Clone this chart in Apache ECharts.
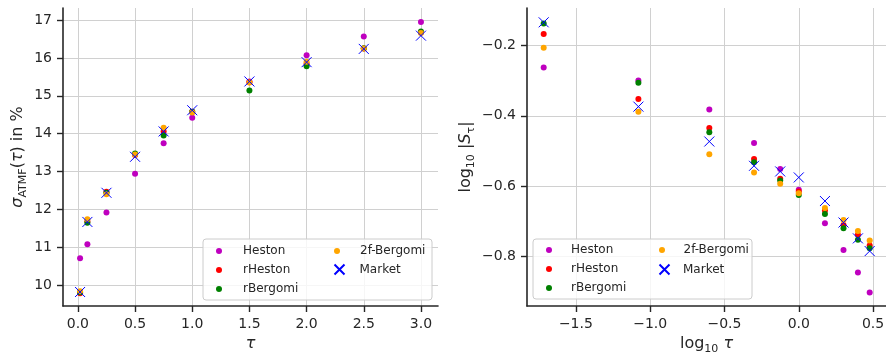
<!DOCTYPE html>
<html><head><meta charset="utf-8">
<script src="https://cdn.jsdelivr.net/npm/echarts@6/dist/echarts.min.js"></script>
<style>html,body{margin:0;padding:0;background:#fff}#c{width:886px;height:355px}</style>
</head><body><div id="c"></div>
<script>
// maturities
const tau = [0.0192, 0.0833, 0.25, 0.5, 0.75, 1.0, 1.5, 2.0, 2.5, 3.0];
// ATMF implied vol (%) - left panel
const atmHeston    = [10.71, 11.08, 11.92, 12.94, 13.75, 14.42, 15.38, 16.07, 16.57, 16.95];
const atmRHeston   = [9.79, 11.68, 12.47, 13.44, 14.06, 14.58, 15.36, 15.85, 16.25, 16.67];
const atmRBergomi  = [9.81, 11.65, 12.44, 13.48, 13.95, 14.58, 15.14, 15.78, 16.26, 16.70];
const atm2fBergomi = [9.84, 11.74, 12.40, 13.45, 14.16, 14.56, 15.35, 15.90, 16.25, 16.66];
const atmMarket    = [9.82, 11.67, 12.44, 13.39, 14.06, 14.62, 15.38, 15.89, 16.24, 16.59];
// log10 |skew| - right panel
const skewHeston    = [-0.2626, -0.2995, -0.382, -0.4775, -0.551, -0.610, -0.705, -0.781, -0.845, -0.902];
const skewRHeston   = [-0.168, -0.3525, -0.435, -0.523, -0.579, -0.615, -0.669, -0.710, -0.738, -0.768];
const skewRBergomi  = [-0.138, -0.306, -0.447, -0.532, -0.584, -0.625, -0.679, -0.719, -0.752, -0.776];
const skew2fBergomi = [-0.2066, -0.3885, -0.509, -0.561, -0.593, -0.620, -0.662, -0.6956, -0.727, -0.754];
const skewMarket    = [-0.1346, -0.374, -0.473, -0.542, -0.558, -0.575, -0.642, -0.703, -0.748, -0.784];
// tick labels
const leftXTicks  = [0, 0.5, 1, 1.5, 2, 2.5, 3];
const leftYTicks  = [10, 11, 12, 13, 14, 15, 16, 17];
const rightXTicks = [-1.5, -1, -0.5, 0, 0.5];
const rightYTicks = [-0.8, -0.6, -0.4, -0.2];

const names = ['Heston', 'rHeston', 'rBergomi', '2f-Bergomi', 'Market'];
const colors = ['#bf00bf', '#ff0000', '#008000', '#ffa500', '#0000ff'];
const leftSets = [atmHeston, atmRHeston, atmRBergomi, atm2fBergomi, atmMarket];
const rightSets = [skewHeston, skewRHeston, skewRBergomi, skew2fBergomi, skewMarket];
const logTau = tau.map(t => Math.log10(t));

const FONT = 'DejaVu Sans';
const DARK = '#262626';
const fmt1 = v => v.toFixed(1).replace('-', '\u2212');
const XPATH = 'path://M0,0L10,10M10,0L0,10';

function axisBase(ticks, formatter, min, max) {
  return {
    type: 'value', min: min, max: max,
    axisLine: { show: true, onZero: false, lineStyle: { color: DARK, width: 1.6 } },
    axisTick: { show: true, length: 6, customValues: ticks, lineStyle: { color: DARK, width: 1.4 } },
    axisLabel: { customValues: ticks, formatter: formatter, color: DARK, fontSize: 14, fontFamily: FONT, margin: 11 },
    splitLine: { show: true, lineStyle: { color: '#d0d0d0', width: 1 } },
    nameTextStyle: { color: DARK, fontFamily: FONT, fontSize: 16 }
  };
}

const rich = {
  n: { fontFamily: FONT, fontSize: 16, color: DARK, lineHeight: 22 },
  m: { fontFamily: FONT, fontSize: 16, fontStyle: 'italic', color: DARK, lineHeight: 22 },
  s: { fontFamily: FONT, fontSize: 11, color: DARK, verticalAlign: 'bottom', lineHeight: 14 }
};

const series = [];
names.forEach((nm, k) => {
  const isX = nm === 'Market';
  const st = isX ? { color: 'none', borderColor: colors[k], borderWidth: 1, opacity: 1 } : { color: colors[k], opacity: 1 };
  series.push({
    name: nm, type: 'scatter', xAxisIndex: 0, yAxisIndex: 0,
    symbol: isX ? XPATH : 'circle', symbolSize: isX ? 10 : 6,
    itemStyle: st, emphasis: { disabled: true },
    data: tau.map((t, i) => [t, leftSets[k][i]])
  });
  series.push({
    name: nm, type: 'scatter', xAxisIndex: 1, yAxisIndex: 1,
    symbol: isX ? XPATH : 'circle', symbolSize: isX ? 10 : 6,
    itemStyle: st, emphasis: { disabled: true },
    data: logTau.map((t, i) => [t, rightSets[k][i]])
  });
});

function legend(data, left, top, size, pad) {
  return {
    data: data, orient: 'vertical', left: left, top: top, padding: 0,
    itemWidth: size, itemHeight: size, itemGap: 5, selectedMode: false,
    itemStyle: { opacity: 1 },
    textStyle: { fontFamily: FONT, fontSize: 12, color: DARK, lineHeight: 14, padding: [0, 0, 0, pad] }
  };
}

const lx = axisBase(leftXTicks, fmt1, -0.13, 3.149);
lx.gridIndex = 0; lx.name = '{m|τ}'; lx.nameLocation = 'middle'; lx.nameGap = 26;
lx.nameTextStyle.rich = rich;
const ly = axisBase(leftYTicks, v => String(v), 9.45, 17.32);
ly.gridIndex = 0; ly.name = '{m|σ}{s|ATMF}{n|(}{m|τ}{n|) in %}'; ly.nameLocation = 'middle'; ly.nameGap = 34;
ly.nameTextStyle.rich = rich;
const rx = axisBase(rightXTicks, fmt1, -1.829, 0.587);
rx.gridIndex = 1; rx.name = '{n|log}{s|10}{m| τ}'; rx.nameLocation = 'middle'; rx.nameGap = 26;
rx.nameTextStyle.rich = rich;
const ry = axisBase(rightYTicks, fmt1, -0.940, -0.094);
ry.gridIndex = 1; ry.name = '{n|log}{s|10}{n| |}{m|S}{s|τ}{n||}'; ry.nameLocation = 'middle'; ry.nameGap = 50;
ry.nameTextStyle.rich = rich;

const option = {
  animation: false,
  backgroundColor: '#ffffff',
  grid: [
    { left: 63, top: 8, right: 448, bottom: 49, outerBoundsMode: 'none', containLabel: false },
    { left: 527, top: 8, right: 0, bottom: 49, outerBoundsMode: 'none', containLabel: false }
  ],
  xAxis: [lx, rx],
  yAxis: [ly, ry],
  graphic: [
    { type: 'rect', z: 3, shape: { x: 203, y: 239, width: 229, height: 61, r: 3 },
      style: { fill: 'rgba(255,255,255,0.8)', stroke: '#cccccc', lineWidth: 1 } },
    { type: 'rect', z: 3, shape: { x: 533, y: 239, width: 219, height: 60, r: 3 },
      style: { fill: 'rgba(255,255,255,0.8)', stroke: '#cccccc', lineWidth: 1 } }
  ],
  legend: [
    legend(['Heston', 'rHeston', 'rBergomi'], 216, 244, 6, 16),
    legend(['2f-Bergomi'], 334, 244, 6, 15),
    legend(['Market'], 332, 262, 10, 10),
    legend(['Heston', 'rHeston', 'rBergomi'], 546, 243, 6, 14),
    legend(['2f-Bergomi'], 659, 243, 6, 13.5),
    legend(['Market'], 657, 262, 10, 8.5)
  ],
  series: series
};
const chart = echarts.init(document.getElementById('c'), null, { renderer: 'canvas' });
chart.setOption(option);
</script></body></html>
